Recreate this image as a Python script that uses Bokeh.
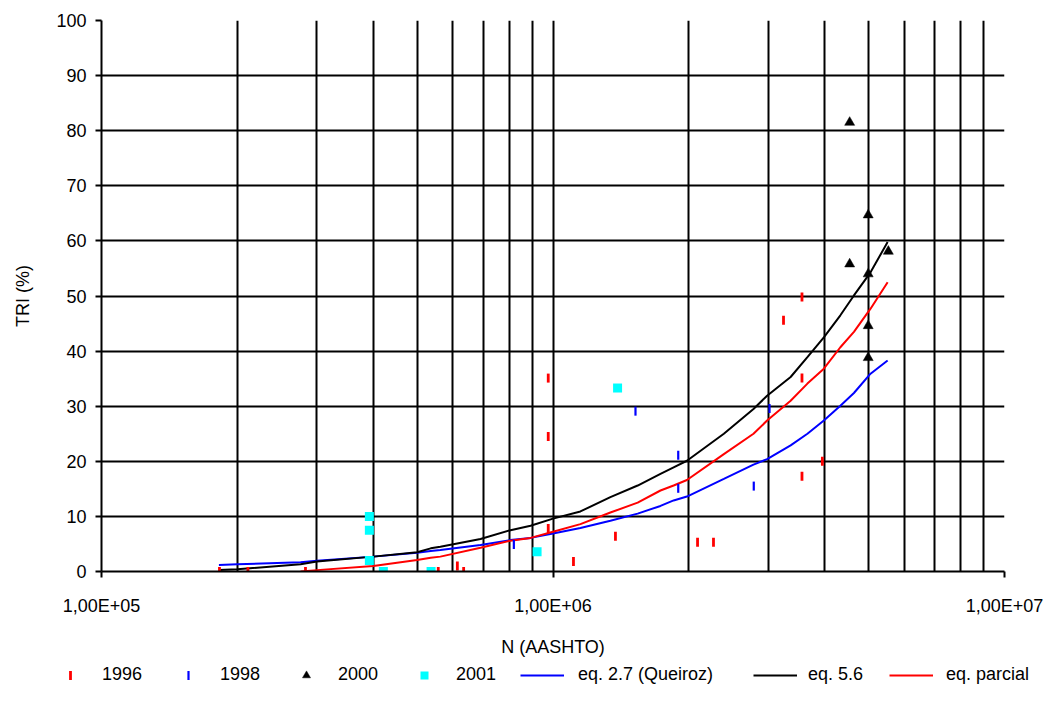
import numpy as np
from bokeh.plotting import figure
from bokeh.layouts import column
from bokeh.models import Range1d, FixedTicker, CustomJSTickFormatter, Legend, LegendItem
from bokeh.embed import file_html
from bokeh.resources import INLINE

# Observed TRI (%) against cumulative traffic N (AASHTO), by survey year
n_1996 = [1.825e5, 2.11e5, 2.83e5, 5.57e5, 6.14e5, 6.34e5, 9.76e5, 9.76e5, 9.76e5,
          1.11e6, 1.375e6, 2.09e6, 2.267e6, 3.24e6, 3.56e6, 3.56e6, 3.56e6, 3.95e6]
tri_1996 = [0, 0, 0, 0, 1.0, 0, 35.1, 24.5, 7.8,
            1.8, 6.4, 5.3, 5.3, 45.6, 49.8, 35.1, 17.3, 20.0]

n_1998 = [8.19e5, 1.523e6, 1.894e6, 1.894e6, 2.784e6, 3.017e6]
tri_1998 = [4.9, 29.1, 21.1, 15.1, 15.5, 29.6]

n_2000 = [4.54e6, 4.54e6, 4.99e6, 4.99e6, 4.99e6, 4.99e6, 5.53e6]
tri_2000 = [81.5, 55.8, 64.7, 54.0, 44.6, 38.8, 58.1]

n_2001 = [3.92e5, 3.92e5, 3.92e5, 4.21e5, 5.37e5, 9.22e5, 1.39e6]
tri_2001 = [10.0, 7.5, 2.0, 0.0, 0.0, 3.6, 33.3]

# Model curves evaluated along N
n_model = [1.82e5, 2.0e5, 2.76e5, 3.0e5, 4.0e5, 5.0e5, 5.36e5, 5.63e5, 6.91e5, 8.05e5,
           8.92e5, 1.0e6, 1.15e6, 1.34e6, 1.54e6, 1.73e6, 1.85e6, 1.98e6, 2.39e6, 2.78e6,
           2.98e6, 3.36e6, 3.66e6, 3.98e6, 4.33e6, 4.64e6, 5.05e6, 5.51e6]
tri_queiroz = [1.16, 1.3, 1.7, 1.95, 2.7, 3.4, 3.7, 3.9, 4.8, 5.7,
               6.1, 6.9, 7.9, 9.2, 10.5, 11.9, 12.9, 13.6, 16.8, 19.4,
               20.4, 22.9, 25.0, 27.4, 30.1, 32.4, 35.9, 38.3]
tri_eq56 = [0.25, 0.4, 1.3, 1.8, 2.7, 3.5, 4.2, 4.5, 5.9, 7.5,
            8.3, 9.6, 10.9, 13.5, 15.6, 17.7, 18.9, 20.1, 25.0, 29.5,
            31.9, 35.3, 38.9, 42.5, 46.5, 50.1, 54.3, 59.8]
n_parcial = n_model[2:]
tri_parcial = [0.0, 0.25, 1.0, 2.1, 2.5, 2.7, 4.3, 5.6,
               6.1, 7.2, 8.6, 10.7, 12.5, 14.7, 15.6, 16.6, 21.3, 25.0,
               27.4, 31.0, 34.1, 36.8, 40.7, 43.5, 47.7, 52.5]

y_ticks = list(range(0, 101, 10))
x_major = [1e5, 1e6, 1e7]
x_grid = [m * 10 ** e for e in (5, 6) for m in range(1, 10)] + [1e7]

FONT = "Liberation Sans"
FS = "18px"

BLUE, RED, CYAN = "#0000FF", "#FF0000", "#00FFFF"

p = figure(width=1054, height=660, x_axis_type="log",
           x_range=Range1d(1e5, 1e7), y_range=Range1d(0, 100),
           output_backend="svg", toolbar_location=None,
           min_border_left=101, min_border_right=50,
           min_border_top=20, min_border_bottom=89)
p.outline_line_color = None
p.background_fill_color = "white"
p.border_fill_color = "white"

# grid: every decade subdivision on x, every 10 % on y
p.xgrid.ticker = FixedTicker(ticks=x_grid)
p.ygrid.ticker = FixedTicker(ticks=y_ticks)
for g in (p.xgrid, p.ygrid):
    g.grid_line_color = "black"
    g.grid_line_width = 2
    g.grid_line_alpha = 1.0

xa = p.xaxis[0]
xa.ticker = FixedTicker(ticks=x_major)
xa.formatter = CustomJSTickFormatter(code="""
    const e = Math.round(Math.log10(tick));
    return "1,00E+" + (e < 10 ? "0" : "") + e;
""")
xa.axis_label = "N (AASHTO)"
xa.major_label_standoff = 18
xa.axis_label_standoff = 18

ya = p.yaxis[0]
ya.ticker = FixedTicker(ticks=y_ticks)
ya.axis_label = "TRI (%)"
ya.major_label_standoff = 9
ya.axis_label_standoff = 20

for ax in (xa, ya):
    ax.axis_line_color = "black"
    ax.axis_line_width = 2
    ax.major_tick_line_color = "black"
    ax.major_tick_line_width = 2
    ax.major_tick_out = 6
    ax.major_tick_in = 0
    ax.minor_tick_line_color = None
    ax.major_label_text_font = FONT
    ax.major_label_text_font_size = FS
    ax.major_label_text_color = "black"
    ax.axis_label_text_font = FONT
    ax.axis_label_text_font_size = FS
    ax.axis_label_text_font_style = "normal"
    ax.axis_label_text_color = "black"

p.line(n_model, tri_queiroz, line_color=BLUE, line_width=2)
p.line(n_model, tri_eq56, line_color="black", line_width=2)
p.line(n_parcial, tri_parcial, line_color=RED, line_width=2)

dash96 = dict(marker="dash", angle=np.pi / 2, size=9, line_color=RED, line_width=2.8)
dash98 = dict(marker="dash", angle=np.pi / 2, size=9, line_color=BLUE, line_width=2.2)
tri00 = dict(marker="triangle", size=10, fill_color="black", line_color="black", line_width=0.5)
sq01 = dict(marker="square", size=9, fill_color=CYAN, line_color=None)

p.scatter(n_1996, tri_1996, **dash96)
p.scatter(n_1998, tri_1998, **dash98)
p.scatter(n_2000, tri_2000, **tri00)
p.scatter(n_2001, tri_2001, **sq01)

# key row under the chart, laid out in pixel units
KW, KH = 1054, 53
k = figure(width=KW, height=KH, x_range=Range1d(0, KW), y_range=Range1d(0, KH),
           x_axis_location=None, y_axis_location=None, frame_align=False,
           output_backend="svg", toolbar_location=None, min_border=0)
k.outline_line_color = None
k.xgrid.visible = False
k.ygrid.visible = False

KEY_BOTTOM, KEY_H, SWATCH_W = 28, 20, 44
key_mid = KEY_BOTTOM + KEY_H / 2
off = -100  # swatch renderers kept off-canvas; the legend only borrows their style

blank = k.scatter([off], [off], marker="dash", size=9, line_alpha=0)
k00 = k.scatter([off], [off], **tri00)
k01 = k.scatter([off], [off], **sq01)
kq = k.line([off, off + 1], [off, off], line_color=BLUE, line_width=2)
k56 = k.line([off, off + 1], [off, off], line_color="black", line_width=2)
kpar = k.line([off, off + 1], [off, off], line_color=RED, line_width=2)

keys = [("1996", blank, 48, 10), ("1998", blank, 166, 10), ("2000", k00, 284, 10),
        ("2001", k01, 402, 10), ("eq. 2.7 (Queiroz)", kq, 520, 14),
        ("eq. 5.6", k56, 753, 11), ("eq. parcial", kpar, 889, 13)]
for label, rend, x, gap in keys:
    lg = Legend(items=[LegendItem(label=label, renderers=[rend])],
                location=(x, KEY_BOTTOM), orientation="horizontal",
                border_line_color=None, background_fill_alpha=0,
                padding=0, margin=0, spacing=0,
                glyph_width=SWATCH_W, glyph_height=KEY_H, label_height=KEY_H,
                label_standoff=gap, label_text_font=FONT, label_text_font_size=FS,
                label_text_color="black")
    k.add_layout(lg, "center")

# upright tick swatches for the two dash series
k.scatter([keys[0][2] + SWATCH_W / 2], [key_mid], **dash96)
k.scatter([keys[1][2] + SWATCH_W / 2], [key_mid], **dash98)

layout = column(p, k, spacing=0)
open("out.html", "w").write(file_html(layout, INLINE))
